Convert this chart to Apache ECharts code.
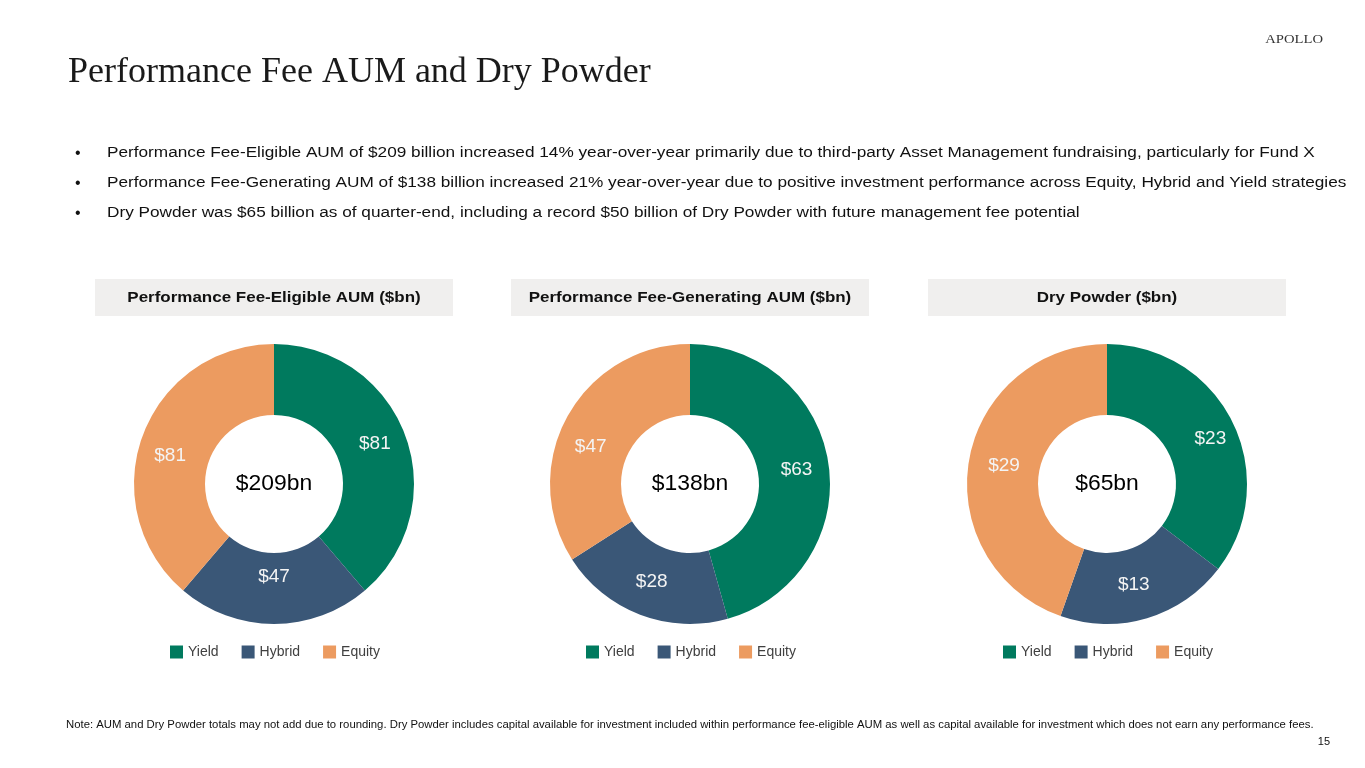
<!DOCTYPE html>
<html><head><meta charset="utf-8">
<script src="https://cdn.jsdelivr.net/npm/echarts@6/dist/echarts.min.js"></script>
<style>html,body{margin:0;padding:0;background:#fff}#c{width:1365px;height:768px}</style>
</head><body><div id="c"></div>
<script>
const categories = ['Yield', 'Hybrid', 'Equity'];
const chartTitles = ['Performance Fee-Eligible AUM ($bn)', 'Performance Fee-Generating AUM ($bn)', 'Dry Powder ($bn)'];
const eligibleValues = [81, 47, 81];
const generatingValues = [63, 28, 47];
const dryPowderValues = [23, 13, 29];
const totals = ['$209bn', '$138bn', '$65bn'];
const bullets = [
  'Performance Fee-Eligible AUM of $209 billion increased 14% year-over-year primarily due to third-party Asset Management fundraising, particularly for Fund X',
  'Performance Fee-Generating AUM of $138 billion increased 21% year-over-year due to positive investment performance across Equity, Hybrid and Yield strategies',
  'Dry Powder was $65 billion as of quarter-end, including a record $50 billion of Dry Powder with future management fee potential'
];
const noteText = 'Note: AUM and Dry Powder totals may not add due to rounding. Dry Powder includes capital available for investment included within performance fee-eligible AUM as well as capital available for investment which does not earn any performance fees.';

const colors = ['#007a5e', '#3a5777', '#ec9b60'];
const centersX = [274, 690, 1107];
const centerY = 484;
const boxLeft = [95, 511, 928];
const boxW = 358;
const legendLeft = [170, 586, 1003];
const seriesData = [eligibleValues, generatingValues, dryPowderValues];
// label nudges (style only) to mimic the original slide's label placement
const labelNudges = [
  [[0, -3], [0, -15], [-3, 9]],
  [[0, 0], [0, -3], [-5, 14]],
  [[7, 2], [-4, -2], [3, 0]]
];

const sans = '"Liberation Sans", Arial, sans-serif';
const serif = '"Liberation Serif", "Times New Roman", serif';

const graphic = [];
graphic.push({type:'text', x:68, y:73, style:{text:'Performance Fee AUM and Dry Powder', font:'36px ' + serif, fill:'#1a1a1a', verticalAlign:'middle'}});
graphic.push({type:'text', x:1323, y:40, scaleX:1.22, style:{text:'APOLLO', font:'12px ' + serif, fill:'#333', align:'right', verticalAlign:'middle'}});
bullets.forEach((b, i) => {
  graphic.push({type:'text', x:75, y:154 + i*30, style:{text:'•', font:'16px ' + sans, fill:'#111', verticalAlign:'middle'}});
  graphic.push({type:'text', x:107, y:153 + i*30, scaleX:1.11, style:{text:b, font:'15.5px ' + sans, fill:'#111', verticalAlign:'middle'}});
});
chartTitles.forEach((t, i) => {
  graphic.push({type:'rect', shape:{x:boxLeft[i], y:279, width:boxW, height:37}, style:{fill:'#f0efee'}});
  graphic.push({type:'text', x:boxLeft[i] + boxW/2, y:297.5, scaleX:1.095, style:{text:t, font:'bold 15.5px ' + sans, fill:'#111', align:'center', verticalAlign:'middle'}});
  graphic.push({type:'text', x:centersX[i], y:centerY, scaleX:1.04, style:{text:totals[i], font:'22px ' + sans, fill:'#000', align:'center', verticalAlign:'middle'}});
});
graphic.push({type:'text', x:66, y:725, scaleX:1.03, style:{text:noteText, font:'11px ' + sans, fill:'#111', verticalAlign:'middle'}});
graphic.push({type:'text', x:1330, y:742, style:{text:'15', font:'11px ' + sans, fill:'#111', align:'right', verticalAlign:'middle'}});

const series = seriesData.map((vals, i) => ({
  type:'pie',
  center:[centersX[i], centerY],
  radius:[69, 140],
  startAngle:90,
  clockwise:true,
  silent:true,
  animation:false,
  label:{show:true, position:'inside', formatter:p => '$' + p.value, color:'#f4f4f4', fontSize:19, fontFamily:sans},
  labelLine:{show:false},
  itemStyle:{borderWidth:0},
  data: vals.map((v, j) => ({name:categories[j], value:v, itemStyle:{color:colors[j]}, label:{offset:labelNudges[i][j]}}))
}));

const legend = legendLeft.map(l => ({
  left:l, top:645, padding:0, icon:'rect', itemWidth:13, itemHeight:13, itemGap:23,
  textStyle:{fontSize:14, color:'#404040', fontFamily:sans},
  selectedMode:false,
  data:categories
}));

const chart = echarts.init(document.getElementById('c'));
chart.setOption({
  backgroundColor:'#fff',
  color:colors,
  legend,
  series,
  graphic
});
</script></body></html>
